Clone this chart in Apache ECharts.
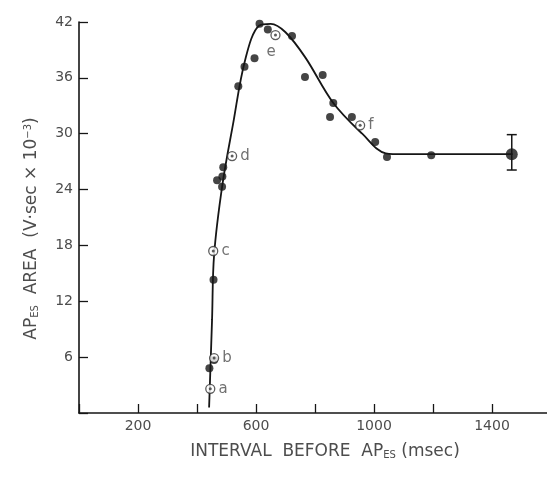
<!DOCTYPE html>
<html>
<head>
<meta charset="utf-8">
<script src="https://cdn.jsdelivr.net/npm/echarts@6/dist/echarts.min.js"></script>
<style>
  html, body { margin: 0; padding: 0; background: #ffffff; }
  #chart { width: 547px; height: 477px; }
</style>
</head>
<body>
<div id="chart"></div>
<script>
// Measured responses: interval before AP_ES (msec) vs AP_ES area
var measuredX = [442, 458, 456, 468, 485, 486, 489, 540, 561, 595, 612, 640, 696, 722, 766, 826, 862, 851, 925, 1004, 1044, 1194];
var measuredY = [4.8, 5.7, 14.3, 25.0, 24.3, 25.4, 26.4, 35.1, 37.2, 38.1, 41.8, 41.2, 42.3, 40.5, 36.1, 36.3, 33.3, 31.8, 31.8, 29.1, 27.5, 27.7];

// Labelled sample points a–f
var sampleNames = ['a', 'b', 'c', 'd', 'e', 'f'];
var sampleX = [445, 458, 455, 519, 666, 953];
var sampleY = [2.6, 5.9, 17.4, 27.6, 40.6, 30.9];

// Steady-state value with its spread
var steadyX = [1467];
var steadyY = [27.8];
var steadyLow = [26.1];
var steadyHigh = [29.9];

// Fitted curve through the measurements
var curveX = [441, 451, 458, 486, 522, 563, 610, 650, 700, 767, 862, 960, 1040, 1100, 1470];
var curveY = [0.6, 10, 17, 24.5, 31, 37.9, 41.6, 41.8, 40.9, 38.2, 33.3, 30.0, 27.9, 27.8, 27.8];

// Axis ticks
var xTickStep = 200;
var xLabelled = [200, 600, 1000, 1400];
var yTickStep = 6;

function pairs(xs, ys) {
  return xs.map(function (x, i) { return [x, ys[i]]; });
}

var ink = '#161616';
var textGrey = '#4d4d4d';
var font = 'DejaVu Sans';

var chart = echarts.init(document.getElementById('chart'));
chart.setOption({
  backgroundColor: '#ffffff',
  animation: false,
  grid: { left: 79, width: 472, top: 22, bottom: 64, containLabel: false, outerBoundsMode: 'none' },
  xAxis: {
    type: 'value',
    min: 0,
    max: 1600,
    interval: xTickStep,
    name: 'INTERVAL  BEFORE  AP{sub|ES} (msec)',
    nameLocation: 'middle',
    nameGap: 30,
    nameTextStyle: {
      color: textGrey, fontFamily: font, fontSize: 17, padding: [0, 0, 0, 20],
      rich: { sub: { fontSize: 10, verticalAlign: 'bottom', color: textGrey, fontFamily: font, padding: [7, 0, 0, 0] } }
    },
    axisLine: { onZero: false, lineStyle: { color: ink, width: 1.6 } },
    axisTick: { inside: true, length: 9, lineStyle: { color: ink, width: 1.3 } },
    splitLine: { show: false },
    axisLabel: {
      color: textGrey, fontFamily: font, fontSize: 14, margin: 6,
      formatter: function (v) { return xLabelled.indexOf(v) >= 0 ? String(v) : ''; }
    }
  },
  yAxis: {
    type: 'value',
    min: 0,
    max: 42,
    interval: yTickStep,
    name: 'AP{sub|ES}  AREA  (V\u00b7sec \u00d7 10{sup|\u22123})',
    nameLocation: 'middle',
    nameGap: 39,
    nameTextStyle: {
      color: textGrey, fontFamily: font, fontSize: 17, padding: [0, 22, 0, 0],
      rich: {
        sub: { fontSize: 10, color: textGrey, fontFamily: font, padding: [7, 0, 0, 0] },
        sup: { fontSize: 10, color: textGrey, fontFamily: font, padding: [0, 0, 7, 0] }
      }
    },
    axisLine: { onZero: false, lineStyle: { color: ink, width: 1.6 } },
    axisTick: { inside: true, length: 9, lineStyle: { color: ink, width: 1.3 } },
    splitLine: { show: false },
    axisLabel: {
      color: textGrey, fontFamily: font, fontSize: 14, margin: 6,
      formatter: function (v) { return v === 0 ? '' : String(v); }
    }
  },
  series: [
    {
      type: 'line',
      data: pairs(curveX, curveY),
      smooth: 0.35,
      showSymbol: false,
      lineStyle: { color: ink, width: 1.8 },
      z: 2
    },
    {
      type: 'scatter',
      data: pairs(measuredX, measuredY),
      symbol: 'circle',
      symbolSize: 8,
      itemStyle: { color: ink },
      z: 4
    },
    {
      type: 'scatter',
      data: sampleNames.map(function (n, i) { return { name: n, value: [sampleX[i], sampleY[i]] }; }),
      symbol: 'circle',
      symbolSize: 9,
      itemStyle: { color: '#ffffff', borderColor: '#333333', borderWidth: 1.3 },
      label: {
        show: true,
        formatter: '{b}',
        position: 'right',
        distance: 3,
        color: textGrey,
        fontFamily: font,
        fontSize: 15
      },
      labelLayout: function (p) {
        return p.text === 'e' ? { dx: -p.labelRect.width - 8, dy: 17 } : {};
      },
      z: 5
    },
    {
      type: 'scatter',
      data: pairs(sampleX, sampleY),
      symbol: 'circle',
      symbolSize: 3,
      itemStyle: { color: '#333333' },
      silent: true,
      z: 6
    },
    {
      type: 'custom',
      data: steadyX.map(function (x, i) { return [x, steadyLow[i], steadyHigh[i]]; }),
      renderItem: function (params, api) {
        var lo = api.coord([api.value(0), api.value(1)]);
        var hi = api.coord([api.value(0), api.value(2)]);
        var cap = 5;
        var st = { stroke: ink, lineWidth: 1.5 };
        return {
          type: 'group',
          children: [
            { type: 'line', shape: { x1: lo[0], y1: lo[1], x2: hi[0], y2: hi[1] }, style: st },
            { type: 'line', shape: { x1: lo[0] - cap, y1: lo[1], x2: lo[0] + cap, y2: lo[1] }, style: st },
            { type: 'line', shape: { x1: hi[0] - cap, y1: hi[1], x2: hi[0] + cap, y2: hi[1] }, style: st }
          ]
        };
      },
      z: 3
    },
    {
      type: 'scatter',
      data: pairs(steadyX, steadyY),
      symbol: 'circle',
      symbolSize: 12,
      itemStyle: { color: ink },
      z: 4
    }
  ]
});
</script>
</body>
</html>
